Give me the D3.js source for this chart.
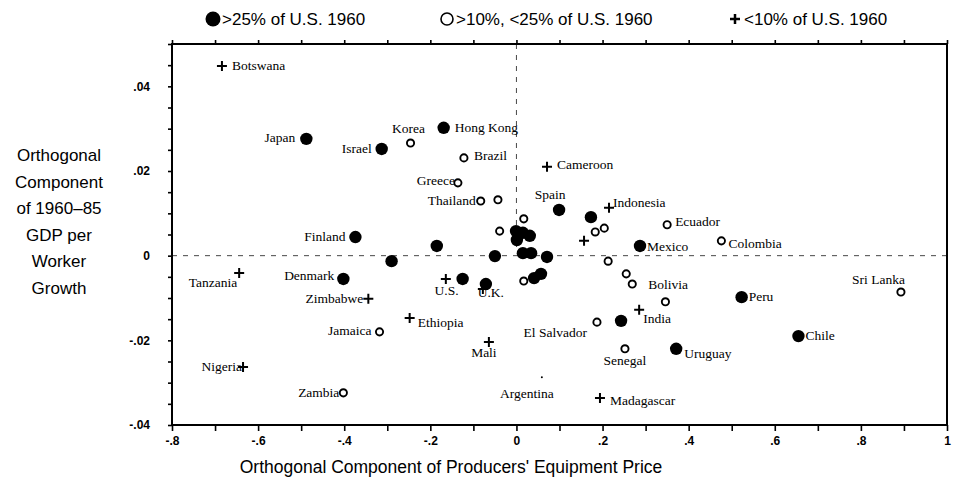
<!DOCTYPE html>
<html>
<head>
<meta charset="utf-8">
<script src="https://cdn.jsdelivr.net/npm/d3@7"></script>
<style>
  html, body { margin: 0; padding: 0; background: #fff; }
  svg { display: block; }
</style>
</head>
<body>
<svg id="chart" width="955" height="497"></svg>
<script>
// ---------------- DATA ----------------
// >25% of U.S. 1960 (filled circles)
const highNames = ["Japan","Israel","Hong Kong","Spain","Finland","","Denmark","","","","","","","","","","","","U.S.","U.K.","","Mexico","","Uruguay","Peru","Chile"];
const highX = [-0.488,-0.313,-0.169,0.099,-0.374,-0.290,-0.402,-0.185,-0.050,-0.001,0.001,0.015,0.031,0.015,0.034,0.071,0.057,0.041,-0.125,-0.071,0.173,0.287,0.243,0.371,0.523,0.655];
const highY = [0.0276,0.0252,0.0302,0.0108,0.0044,-0.0013,-0.0055,0.0023,-0.0001,0.0058,0.0037,0.0054,0.0047,0.0006,0.0006,-0.0003,-0.0043,-0.0053,-0.0055,-0.0067,0.0091,0.0023,-0.0154,-0.0220,-0.0098,-0.0190];

// >10%, <25% of U.S. 1960 (open circles)
const midNames = ["Korea","Brazil","Greece","Thailand","","","","","","","Ecuador","Colombia","","","Bolivia","","El Salvador","Senegal","Jamaica","Zambia","Sri Lanka"];
const midX = [-0.246,-0.122,-0.136,-0.083,-0.043,0.017,-0.039,0.017,0.183,0.204,0.350,0.476,0.213,0.255,0.269,0.346,0.187,0.252,-0.318,-0.402,0.893];
const midY = [0.0266,0.0231,0.0172,0.0129,0.0132,0.0087,0.0058,-0.0060,0.0056,0.0065,0.0073,0.0035,-0.0013,-0.0043,-0.0067,-0.0109,-0.0157,-0.0220,-0.0180,-0.0324,-0.0086];

// <10% of U.S. 1960 (plus signs)
const lowNames = ["Botswana","Tanzania","Zimbabwe","Ethiopia","Nigeria","Mali","Cameroon","Indonesia","","","","India","Madagascar"];
const lowX = [-0.684,-0.644,-0.344,-0.248,-0.635,-0.064,0.071,0.215,0.157,-0.164,-0.078,0.285,0.194];
const lowY = [0.0448,-0.0041,-0.0102,-0.0147,-0.0263,-0.0204,0.0210,0.0113,0.0035,-0.0055,-0.0079,-0.0128,-0.0336];

// point whose marker is barely visible
const dotNames = ["Argentina"];
const dotX = [0.059];
const dotY = [-0.0287];

const xTickValues = [-0.8,-0.6,-0.4,-0.2,0,0.2,0.4,0.6,0.8,1];
const xTickLabels = ["-.8","-.6","-.4","-.2","0",".2",".4",".6",".8","1"];
const yTickValues = [-0.04,-0.02,0,0.02,0.04];
const yTickLabels = ["-.04","-.02","0",".02",".04"];

const legendLabels = [">25% of U.S. 1960", ">10%, <25% of U.S. 1960", "<10% of U.S. 1960"];
const xTitle = "Orthogonal Component of Producers' Equipment Price";
const yTitleLines = ["Orthogonal","Component","of 1960\u201385","GDP per","Worker","Growth"];

// ---------------- LAYOUT (label placement: dx, dy, anchor) ----------------
const labelPlace = {
  "Botswana":[10,4,"start"], "Japan":[-11,3,"end"], "Israel":[-10,4,"end"],
  "Korea":[-2,-10,"middle"], "Hong Kong":[11,4,"start"], "Brazil":[10,2,"start"],
  "Greece":[-3,2,"end"], "Thailand":[-5,4,"end"], "Cameroon":[10,2,"start"],
  "Spain":[-9,-11,"middle"], "Indonesia":[4,-1,"start"], "Ecuador":[8,1,"start"],
  "Mexico":[7,5,"start"], "Colombia":[7,7,"start"], "Finland":[-10,4,"end"],
  "Denmark":[-9,1,"end"], "Tanzania":[-2,14,"end"], "Zimbabwe":[-5,4,"end"],
  "Ethiopia":[8,9,"start"], "Jamaica":[-8,3,"end"], "Nigeria":[-1,4,"end"],
  "Zambia":[-4,4,"end"], "Mali":[-5,15,"middle"], "U.S.":[-16,16,"middle"],
  "U.K.":[5,13,"middle"], "El Salvador":[-10,15,"end"], "India":[4,13,"start"],
  "Bolivia":[16,5,"start"], "Senegal":[0,16,"middle"], "Uruguay":[8,9,"start"],
  "Peru":[7,4,"start"], "Chile":[7,4,"start"], "Sri Lanka":[4,-8,"end"],
  "Argentina":[-15,21,"middle"], "Madagascar":[10,7,"start"]
};

// ---------------- DRAW ----------------
const svg = d3.select("#chart");
const pL = 172, pR = 947, pT = 44, pB = 425;
const x = d3.scaleLinear().domain([-0.8, 1]).range([pL, pR]);
const y = d3.scaleLinear().domain([-0.04, 0.05]).range([pB, pT]);

const ink = "#000";
const sansTick = "'Liberation Sans Narrow','Liberation Sans',Arial,sans-serif";
const sans = "'Liberation Sans',Arial,sans-serif";
const serif = "'Liberation Serif','Times New Roman',serif";

// reference lines
svg.append("line")
  .attr("x1", x(-0.8)).attr("x2", x(1)).attr("y1", y(0)).attr("y2", y(0))
  .attr("stroke", "#333").attr("stroke-width", 0.9).attr("stroke-dasharray", "5,6");
svg.append("line")
  .attr("x1", x(0)).attr("x2", x(0)).attr("y1", y(0.05)).attr("y2", y(0.001))
  .attr("stroke", "#333").attr("stroke-width", 0.9).attr("stroke-dasharray", "5,6");

// frame
svg.append("rect").attr("x", pL).attr("y", pT).attr("width", pR-pL).attr("height", pB-pT)
  .attr("fill", "none").attr("stroke", ink).attr("stroke-width", 2);

// bottom axis (minor ticks every .1, labels on .2)
const xMinor = d3.range(-8, 11).map(d => d/10);
const gx = svg.append("g").attr("transform", `translate(0,${pB})`)
  .call(d3.axisBottom(x).tickValues(xMinor).tickSize(6).tickPadding(5)
    .tickFormat(d => { const i = xTickValues.findIndex(v => Math.abs(v-d) < 1e-9); return i >= 0 ? xTickLabels[i] : ""; }));
gx.select(".domain").remove();
gx.selectAll("line").attr("stroke", ink).attr("stroke-width", 1.6);
gx.selectAll("text").attr("font-family", sansTick).attr("font-size", 12).attr("font-weight", "bold").attr("fill", ink);

// top axis ticks
const gt = svg.append("g").attr("transform", `translate(0,${pT})`)
  .call(d3.axisTop(x).tickValues(xMinor).tickSize(4).tickFormat(""));
gt.select(".domain").remove();
gt.selectAll("line").attr("stroke", ink).attr("stroke-width", 1.6);

// left axis (minor ticks every .005)
const yMinor = d3.range(-8, 11).map(d => d*0.005);
const gy = svg.append("g").attr("transform", `translate(${pL},0)`)
  .call(d3.axisLeft(y).tickValues(yMinor).tickSize(4).tickPadding(18)
    .tickFormat(d => { const i = yTickValues.findIndex(v => Math.abs(v-d) < 1e-9); return i >= 0 ? yTickLabels[i] : ""; }));
gy.select(".domain").remove();
gy.selectAll("line").attr("stroke", ink).attr("stroke-width", 1.6);
gy.selectAll("text").attr("font-family", sansTick).attr("font-size", 12).attr("font-weight", "bold").attr("fill", ink);

// markers
function plusPath(s) { return `M${-s},0H${s}M0,${-s}V${s}`; }
const mk = svg.append("g");

const highData = highX.map((v,i) => ({name: highNames[i], x: v, y: highY[i]}));
const midData = midX.map((v,i) => ({name: midNames[i], x: v, y: midY[i]}));
const lowData = lowX.map((v,i) => ({name: lowNames[i], x: v, y: lowY[i]}));
const dotData = dotX.map((v,i) => ({name: dotNames[i], x: v, y: dotY[i]}));

mk.append("g").selectAll("circle").data(midData).join("circle")
  .attr("cx", d => x(d.x)).attr("cy", d => y(d.y)).attr("r", 3.6)
  .attr("fill", "#fff").attr("stroke", ink).attr("stroke-width", 1.9);
mk.append("g").selectAll("circle").data(highData).join("circle")
  .attr("cx", d => x(d.x)).attr("cy", d => y(d.y)).attr("r", 6.2)
  .attr("fill", ink);
mk.append("g").selectAll("path").data(lowData).join("path")
  .attr("transform", d => `translate(${x(d.x)},${y(d.y)})`)
  .attr("d", plusPath(5)).attr("stroke", ink).attr("stroke-width", 2).attr("fill", "none");
mk.append("g").selectAll("circle").data(dotData).join("circle")
  .attr("cx", d => x(d.x)).attr("cy", d => y(d.y)).attr("r", 1)
  .attr("fill", ink);

// labels
const all = highData.concat(midData, lowData, dotData).filter(d => d.name && labelPlace[d.name]);
svg.append("g").selectAll("text").data(all).join("text")
  .attr("x", d => x(d.x) + labelPlace[d.name][0])
  .attr("y", d => y(d.y) + labelPlace[d.name][1])
  .attr("text-anchor", d => labelPlace[d.name][2])
  .attr("font-family", serif).attr("font-size", 13.5).attr("fill", ink)
  .text(d => d.name);

// legend
const lg = svg.append("g").attr("font-family", sans).attr("font-size", 17).attr("fill", ink);
const legX = [213, 447, 735];
lg.append("circle").attr("cx", legX[0]).attr("cy", 19).attr("r", 7.5).attr("fill", ink);
lg.append("circle").attr("cx", legX[1]).attr("cy", 19).attr("r", 6).attr("fill", "#fff").attr("stroke", ink).attr("stroke-width", 1.6);
lg.append("path").attr("transform", `translate(${legX[2]},19)`).attr("d", plusPath(5)).attr("stroke", ink).attr("stroke-width", 2.5);
legendLabels.forEach((t, i) => {
  lg.append("text").attr("x", legX[i] + 9).attr("y", 25).text(t);
});

// axis titles
svg.append("text").attr("x", 451).attr("y", 473).attr("text-anchor", "middle")
  .attr("font-family", sans).attr("font-size", 17.5).attr("fill", ink).text(xTitle);
svg.append("g").selectAll("text").data(yTitleLines).join("text")
  .attr("x", 59).attr("y", (d,i) => 161 + i*26.5).attr("text-anchor", "middle")
  .attr("font-family", sans).attr("font-size", 17).attr("fill", ink).text(d => d);
</script>
</body>
</html>
